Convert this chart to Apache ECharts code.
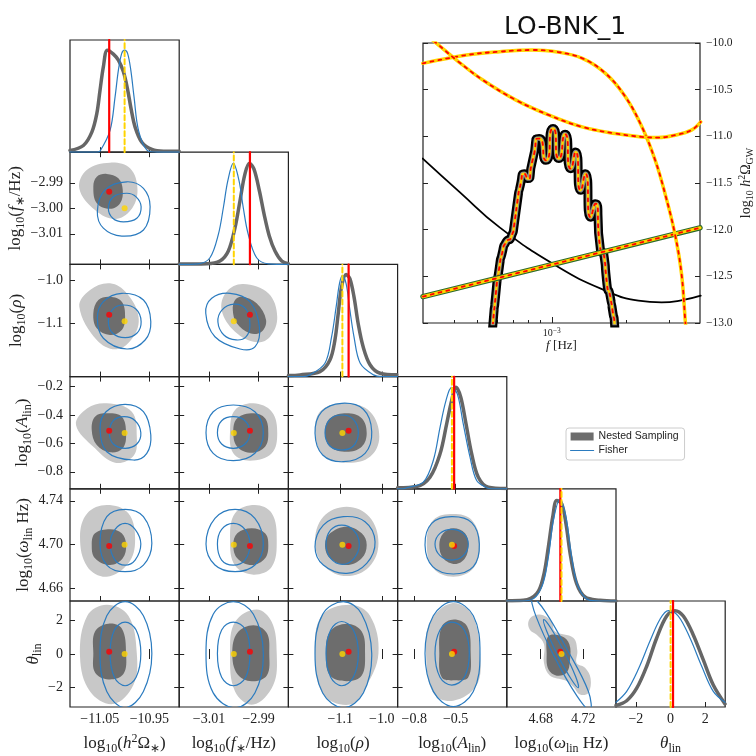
<!DOCTYPE html>
<html>
<head>
<meta charset="utf-8">
<script src="https://cdn.jsdelivr.net/npm/echarts@6.0.0/dist/echarts.min.js"></script>
<style>
html, body { margin: 0; padding: 0; background: #fff; }
#main { width: 756px; height: 756px; }
</style>
</head>
<body>
<div id="main"></div>
<script>
// ---- corner plot parameters ----
var paramMin = [-11.11, -3.022, -1.225, -0.92, 4.648, -3.1416];
var paramMax = [-10.89, -2.978, -0.962, -0.13, 4.751, 3.1416];
var xTickVals = [[-11.05, -10.95], [-3.01, -2.99], [-1.1, -1.0], [-0.8, -0.5], [4.68, 4.72], [-2, 0, 2]];
var yTickVals = [[], [-2.99, -3.0, -3.01], [-1.0, -1.1], [-0.2, -0.4, -0.6, -0.8], [4.74, 4.70, 4.66], [2, 0, -2]];
var tickDecimals = [2, 2, 1, 1, 2, 0];
var truthVals = [-11.0, -3.0, -1.095, -0.527, 4.6996, 0.0];
var nsBestVals = [-11.031, -2.9935, -1.080, -0.511, 4.6985, 0.14];

// axis labels (rich text)
var axisNames = [
  '{n|log}{s|10}{n|(}{i|h}{p|2}{n|Ω}{s|∗}{n|)}',
  '{n|log}{s|10}{n|(}{i|f}{s|∗}{n|/Hz)}',
  '{n|log}{s|10}{n|(}{i|ρ}{n|)}',
  '{n|log}{s|10}{n|(}{i|A}{s|lin}{n|)}',
  '{n|log}{s|10}{n|(}{i|ω}{s|lin}{n| Hz)}',
  '{i|θ}{s|lin}'
];

// 1D marginals: [value, normalised density]
var nsMarginal = [
  [[-11.11, 0.017], [-11.083, 0.066], [-11.066, 0.197], [-11.056, 0.378], [-11.0495, 0.608], [-11.0428, 0.837], [-11.0347, 1.0], [-11.0226, 0.962], [-11.0125, 0.903], [-11.0024, 0.788], [-10.9943, 0.624], [-10.987, 0.427], [-10.9788, 0.246], [-10.9653, 0.098], [-10.945, 0.027], [-10.9217, 0.01], [-10.89, 0.01]],
  [[-3.022, 0.003], [-3.0109, 0.006], [-3.0056, 0.033], [-3.0022, 0.131], [-2.9995, 0.361], [-2.9975, 0.624], [-2.9955, 0.887], [-2.9937, 0.992], [-2.9919, 0.936], [-2.9897, 0.722], [-2.9878, 0.493], [-2.9857, 0.279], [-2.9834, 0.131], [-2.9807, 0.033], [-2.978, 0.006]],
  [[-1.225, 0.01], [-1.197, 0.017], [-1.149, 0.049], [-1.125, 0.163], [-1.113, 0.358], [-1.105, 0.619], [-1.097, 0.878], [-1.086, 1.0], [-1.077, 0.96], [-1.067, 0.781], [-1.057, 0.521], [-1.045, 0.293], [-1.028, 0.114], [-1.004, 0.033], [-0.964, 0.017]],
  [[-0.92, 0.01], [-0.782, 0.023], [-0.686, 0.114], [-0.613, 0.343], [-0.565, 0.637], [-0.529, 0.865], [-0.497, 0.995], [-0.463, 0.897], [-0.425, 0.637], [-0.384, 0.343], [-0.336, 0.114], [-0.264, 0.016], [-0.136, 0.003]],
  [[4.648, 0.003], [4.6636, 0.007], [4.6762, 0.072], [4.6824, 0.235], [4.6872, 0.529], [4.6913, 0.822], [4.6951, 0.986], [4.6998, 0.953], [4.7038, 0.757], [4.7083, 0.431], [4.7139, 0.17], [4.7218, 0.039], [4.7359, 0.007], [4.751, 0.0]],
  [[-3.14, 0.016], [-2.526, 0.065], [-1.95, 0.195], [-1.375, 0.423], [-0.80, 0.716], [-0.225, 0.944], [0.253, 1.0], [0.73, 0.944], [1.305, 0.748], [1.881, 0.488], [2.456, 0.228], [3.13, 0.032]]
];
var fisherMarginal = [
  [[-11.11, 0], [-11.056, 0], [-11.0495, 0.01], [-11.0293, 0.214], [-11.0192, 0.542], [-11.0125, 0.805], [-11.0058, 0.969], [-11.0, 1.0], [-10.994, 0.969], [-10.9875, 0.805], [-10.981, 0.542], [-10.972, 0.214], [-10.955, 0.02], [-10.935, 0], [-10.89, 0]],
  [[-3.022, 0], [-3.0143, 0.006], [-3.0096, 0.065], [-3.0062, 0.296], [-3.0042, 0.558], [-3.0024, 0.821], [-3.0002, 0.992], [-2.9979, 0.821], [-2.9962, 0.558], [-2.9942, 0.296], [-2.9908, 0.065], [-2.9861, 0.006], [-2.978, 0]],
  [[-1.225, 0], [-1.19, 0], [-1.173, 0.017], [-1.137, 0.131], [-1.121, 0.39], [-1.110, 0.683], [-1.102, 0.911], [-1.095, 0.99], [-1.086, 0.911], [-1.078, 0.683], [-1.067, 0.39], [-1.052, 0.131], [-1.020, 0.017], [-1.0, 0], [-0.962, 0]],
  [[-0.92, 0], [-0.88, 0], [-0.854, 0.01], [-0.734, 0.065], [-0.662, 0.277], [-0.613, 0.603], [-0.570, 0.865], [-0.529, 0.995], [-0.488, 0.93], [-0.445, 0.637], [-0.396, 0.31], [-0.348, 0.081], [-0.275, 0.01], [-0.24, 0], [-0.13, 0]],
  [[4.648, 0], [4.66, 0], [4.6699, 0.007], [4.6809, 0.137], [4.6872, 0.431], [4.6919, 0.79], [4.6982, 1.0], [4.7038, 0.822], [4.7092, 0.431], [4.7155, 0.137], [4.7265, 0.007], [4.74, 0], [4.751, 0]],
  [[-3.14, 0.049], [-2.526, 0.162], [-1.859, 0.391], [-1.186, 0.684], [-0.61, 0.911], [-0.132, 1.0], [0.443, 0.944], [1.116, 0.716], [1.79, 0.423], [2.456, 0.162], [3.13, 0.049]]
];

// 2D panels [row, col] and their contour outlines ([x = col param, y = row param])
var pairList = [[1, 0], [2, 0], [2, 1], [3, 0], [3, 1], [3, 2], [4, 0], [4, 1], [4, 2], [4, 3], [5, 0], [5, 1], [5, 2], [5, 3], [5, 4]];

var nsLight = [
  [[-10.974, -2.9928], [-10.989, -2.9843], [-11.0293, -2.9821], [-11.0763, -2.985], [-11.0912, -2.9922], [-11.0596, -3.0007], [-11.0192, -3.0042], [-10.9875, -3.0007]],
  [[-10.972, -1.0846], [-10.9956, -1.0297], [-11.0293, -1.0063], [-11.0696, -1.022], [-11.0912, -1.0612], [-11.0561, -1.1392], [-11.0158, -1.161], [-10.9823, -1.1315]],
  [[-2.9825, -1.0846], [-2.9861, -1.0297], [-2.9962, -1.0079], [-3.0029, -1.026], [-3.0049, -1.0689], [-2.9995, -1.1198], [-2.9908, -1.1446], [-2.9854, -1.1315]],
  [[-10.9754, -0.5532], [-10.9855, -0.3772], [-11.0359, -0.318], [-11.0751, -0.3535], [-11.0979, -0.4708], [-11.0596, -0.6349], [-11.0192, -0.7363], [-10.9822, -0.689]],
  [[-2.9825, -0.5293], [-2.9847, -0.3772], [-2.9921, -0.318], [-2.9995, -0.3652], [-3.0015, -0.506], [-3.0002, -0.6701], [-2.9935, -0.7223], [-2.9847, -0.6701]],
  [[-1.006, -0.5532], [-1.0284, -0.3772], [-1.0845, -0.318], [-1.1448, -0.3652], [-1.1609, -0.506], [-1.1409, -0.6821], [-1.0845, -0.7363], [-1.0284, -0.6941]],
  [[-10.9788, 4.704], [-10.9924, 4.7285], [-11.0359, 4.7361], [-11.0751, 4.7285], [-11.0898, 4.707], [-11.0751, 4.6795], [-11.0359, 4.6703], [-10.9924, 4.6826]],
  [[-2.9827, 4.704], [-2.9847, 4.7285], [-2.9915, 4.7361], [-2.9995, 4.7285], [-3.0015, 4.704], [-2.9995, 4.6805], [-2.9921, 4.6722], [-2.9847, 4.6795]],
  [[-1.0081, 4.701], [-1.0302, 4.7254], [-1.0845, 4.7346], [-1.1409, 4.7254], [-1.1609, 4.701], [-1.1368, 4.6795], [-1.0845, 4.6709], [-1.0302, 4.6795]],
  [[-0.3238, 4.701], [-0.3838, 4.7223], [-0.517, 4.7278], [-0.6617, 4.7223], [-0.7094, 4.701], [-0.6617, 4.678], [-0.517, 4.6703], [-0.3722, 4.678]],
  [[-10.9754, 0.023], [-10.9924, 2.2625], [-11.0359, 2.9176], [-11.0751, 2.2625], [-11.0898, -0.1617], [-11.0696, -2.2169], [-11.0226, -2.9634], [-10.9823, -1.8432]],
  [[-2.9827, 0.023], [-2.9847, 1.893], [-2.9908, 2.6377], [-2.9995, 1.893], [-3.0015, 0.023], [-2.9995, -2.217], [-2.9921, -3.0], [-2.9841, -1.8433]],
  [[-1.0081, 0.023], [-1.0284, 2.2625], [-1.0766, 2.9176], [-1.1448, 2.2625], [-1.1609, 0.023], [-1.1409, -2.401], [-1.0766, -3.0], [-1.0404, -2.029]],
  [[-0.3238, 0.023], [-0.3838, 2.3577], [-0.5285, 3.013], [-0.6856, 1.893], [-0.7145, 0.023], [-0.6617, -2.3113], [-0.517, -2.77], [-0.3479, -1.8432]],
  [[4.6683, 1.893], [4.673, 2.262], [4.6824, 2.302], [4.6904, 1.893], [4.6935, 1.333], [4.7107, 0.958], [4.7145, 0.213], [4.7139, -0.536], [4.7218, -0.816], [4.7271, -1.466], [4.7249, -2.306], [4.7171, -2.401], [4.7107, -1.936], [4.7029, -1.561], [4.6888, -1.282], [4.6831, -0.536], [4.6831, 0.583], [4.6762, 1.143], [4.6699, 1.423]]
];

var nsDark = [
  [[-11.0037, -2.9928], [-11.0125, -2.9882], [-11.036, -2.9865], [-11.056, -2.9876], [-11.063, -2.9915], [-11.056, -2.998], [-11.0293, -3.0002], [-11.009, -2.998]],
  [[-10.999, -1.0846], [-11.0057, -1.0494], [-11.0293, -1.0377], [-11.0529, -1.0455], [-11.063, -1.0766], [-11.0561, -1.1118], [-11.0293, -1.1275], [-11.0057, -1.1158]],
  [[-2.987, -1.0923], [-2.9908, -1.0532], [-2.9968, -1.0377], [-2.9995, -1.0455], [-3.0004, -1.0689], [-2.9988, -1.1001], [-2.9935, -1.1235], [-2.9888, -1.1198]],
  [[-10.997, -0.5293], [-11.0057, -0.4124], [-11.0359, -0.3885], [-11.0596, -0.4124], [-11.0662, -0.506], [-11.0561, -0.6117], [-11.0293, -0.6631], [-11.0037, -0.6349]],
  [[-2.9861, -0.5293], [-2.9874, -0.4237], [-2.9921, -0.3885], [-2.9986, -0.4237], [-3.0002, -0.518], [-2.9986, -0.6237], [-2.9928, -0.666], [-2.9874, -0.6237]],
  [[-1.0364, -0.5293], [-1.0484, -0.4237], [-1.0845, -0.3885], [-1.1248, -0.4237], [-1.1368, -0.518], [-1.1248, -0.6237], [-1.0845, -0.6589], [-1.0484, -0.6237]],
  [[-10.997, 4.6994], [-11.0057, 4.7101], [-11.0293, 4.7138], [-11.0596, 4.7101], [-11.0662, 4.6994], [-11.0596, 4.6872], [-11.0293, 4.681], [-11.0037, 4.6872]],
  [[-2.9861, 4.6994], [-2.9874, 4.7101], [-2.9928, 4.7147], [-2.9986, 4.7101], [-3.0002, 4.6994], [-2.9986, 4.6872], [-2.9928, 4.681], [-2.9874, 4.6872]],
  [[-1.0364, 4.6994], [-1.0484, 4.7101], [-1.0845, 4.7162], [-1.1248, 4.7101], [-1.1368, 4.6994], [-1.1248, 4.6872], [-1.0845, 4.681], [-1.0484, 4.6872]],
  [[-0.4084, 4.6994], [-0.4323, 4.7101], [-0.517, 4.7147], [-0.5893, 4.7101], [-0.6183, 4.6994], [-0.5893, 4.6872], [-0.5047, 4.6819], [-0.4323, 4.6872]],
  [[-10.997, 0.023], [-11.0057, 1.5178], [-11.0327, 1.798], [-11.0596, 1.3314], [-11.063, 0.023], [-11.0596, -1.0968], [-11.0327, -1.5057], [-11.0024, -1.186]],
  [[-2.9857, 0.023], [-2.9867, 1.238], [-2.9921, 1.7026], [-2.9986, 1.238], [-3.0006, 0.023], [-2.9986, -1.186], [-2.9928, -1.6177], [-2.9867, -1.2818]],
  [[-1.0404, 0.023], [-1.0484, 1.3314], [-1.0845, 1.798], [-1.1248, 1.3314], [-1.1344, 0.023], [-1.1248, -1.2818], [-1.0845, -1.6177], [-1.0484, -1.2818]],
  [[-0.391, 0.023], [-0.4157, 1.613], [-0.5119, 2.039], [-0.6009, 1.613], [-0.6183, 0.023], [-0.6009, -1.377], [-0.5047, -1.5615], [-0.4084, -1.377]],
  [[4.6872, 1.053], [4.6998, 1.053], [4.707, 0.583], [4.7076, -0.346], [4.7045, -1.097], [4.6951, -1.282], [4.6872, -0.906], [4.6856, 0.023]]
];

var fisherOuter = [
  [[-10.9486, -2.9994], [-10.962, -2.9922], [-10.9956, -2.9896], [-11.0394, -2.9928], [-11.0549, -3.0013], [-11.0428, -3.0078], [-11.0057, -3.0109], [-10.962, -3.0085]],
  [[-10.9472, -1.0963], [-10.962, -1.0455], [-11.0057, -1.0297], [-11.0428, -1.0494], [-11.0549, -1.0883], [-11.0428, -1.1352], [-10.9956, -1.1603], [-10.9587, -1.1392]],
  [[-2.9897, -1.108], [-2.9935, -1.0494], [-3.0015, -1.0297], [-3.0089, -1.0415], [-3.0113, -1.0766], [-3.0076, -1.1315], [-2.9975, -1.1603], [-2.9914, -1.1549]],
  [[-10.9472, -0.5413], [-10.9621, -0.3772], [-10.999, -0.3251], [-11.0374, -0.3772], [-11.0495, -0.4941], [-11.0359, -0.6589], [-10.9823, -0.7173], [-10.9553, -0.6702]],
  [[-2.9881, -0.5251], [-2.9915, -0.3772], [-3.0002, -0.33], [-3.0083, -0.3772], [-3.0112, -0.5251], [-3.0083, -0.6701], [-3.0002, -0.7223], [-2.9915, -0.6701]],
  [[-1.0243, -0.518], [-1.0445, -0.3603], [-1.0966, -0.318], [-1.1448, -0.3772], [-1.1609, -0.5293], [-1.1424, -0.6821], [-1.0927, -0.7293], [-1.0404, -0.6701]],
  [[-10.9451, 4.701], [-10.9621, 4.7254], [-10.999, 4.7322], [-11.0359, 4.7254], [-11.0495, 4.701], [-11.0359, 4.681], [-10.999, 4.6749], [-10.9621, 4.681]],
  [[-2.9881, 4.7003], [-2.9915, 4.7239], [-2.9995, 4.7322], [-3.0076, 4.7239], [-3.0112, 4.7003], [-3.0076, 4.681], [-2.9995, 4.6749], [-2.9915, 4.681]],
  [[-1.0163, 4.7024], [-1.0404, 4.7208], [-1.0927, 4.7254], [-1.1409, 4.7177], [-1.1609, 4.6978], [-1.1409, 4.681], [-1.0845, 4.6734], [-1.0364, 4.6826]],
  [[-0.3289, 4.7003], [-0.3838, 4.7199], [-0.5285, 4.7254], [-0.6733, 4.7193], [-0.7217, 4.6994], [-0.666, 4.6795], [-0.517, 4.6728], [-0.3722, 4.6795]],
  [[-10.9451, 0.023], [-10.9621, 2.2625], [-10.999, 3.10], [-11.0359, 2.2625], [-11.0495, 0.023], [-11.0359, -2.2167], [-10.999, -3.185], [-10.9621, -2.2167]],
  [[-2.9881, 0.023], [-2.9921, 2.3577], [-3.0002, 3.10], [-3.0083, 2.3577], [-3.0112, 0.023], [-3.0083, -2.306], [-2.9995, -3.185], [-2.9915, -2.306]],
  [[-1.0243, 0.023], [-1.0484, 2.3577], [-1.0927, 3.10], [-1.1424, 2.3577], [-1.1609, 0.023], [-1.1424, -2.306], [-1.0927, -3.185], [-1.0445, -2.306]],
  [[-0.3238, 0.023], [-0.3722, 2.2625], [-0.517, 3.10], [-0.6617, 2.2625], [-0.7217, 0.023], [-0.6617, -2.217], [-0.517, -3.112], [-0.3722, -2.217]],
  [[4.7267, -3.336], [4.725, -2.222], [4.7055, 0.208], [4.6841, 2.531], [4.6716, 3.382], [4.6753, 2.273], [4.6928, -0.156], [4.7141, -2.48]]
];

var fisherInner = [
  [[-10.9667, -2.9994], [-10.9768, -2.9955], [-10.9956, -2.9941], [-11.0226, -2.9955], [-11.0327, -3.0], [-11.0238, -3.0039], [-11.0024, -3.0053], [-10.9754, -3.0039]],
  [[-10.9667, -1.0963], [-10.9768, -1.0672], [-11.0024, -1.0572], [-11.0238, -1.0672], [-11.0327, -1.0963], [-11.0238, -1.1235], [-10.999, -1.1338], [-10.9754, -1.1235]],
  [[-2.9935, -1.104], [-2.9951, -1.0666], [-2.9999, -1.055], [-3.0048, -1.069], [-3.0064, -1.097], [-3.004, -1.1275], [-2.9991, -1.139], [-2.9951, -1.132]],
  [[-10.9673, -0.5251], [-10.9788, -0.4406], [-11.001, -0.4124], [-11.0226, -0.4406], [-11.0307, -0.5251], [-11.0226, -0.6047], [-10.999, -0.6349], [-10.9754, -0.6047]],
  [[-2.9935, -0.525], [-2.9955, -0.4406], [-3.0002, -0.4124], [-3.0049, -0.4406], [-3.0066, -0.525], [-3.0049, -0.6047], [-3.0002, -0.6349], [-2.9955, -0.6047]],
  [[-1.0566, -0.525], [-1.0686, -0.4307], [-1.0966, -0.4004], [-1.1248, -0.4307], [-1.1368, -0.525], [-1.1248, -0.6187], [-1.0966, -0.6469], [-1.0686, -0.6187]],
  [[-10.9673, 4.7003], [-10.9788, 4.7138], [-10.999, 4.7193], [-11.0192, 4.7138], [-11.0293, 4.7003], [-11.0192, 4.6856], [-10.999, 4.681], [-10.9788, 4.6856]],
  [[-2.9935, 4.7003], [-2.9955, 4.7138], [-3.0002, 4.7193], [-3.0049, 4.7138], [-3.0066, 4.7003], [-3.0049, 4.6856], [-3.0002, 4.681], [-2.9955, 4.6856]],
  [[-1.0542, 4.7003], [-1.0686, 4.7132], [-1.0966, 4.7177], [-1.1231, 4.7132], [-1.1344, 4.7003], [-1.1231, 4.6872], [-1.0942, 4.6817], [-1.0669, 4.6872]],
  [[-0.4084, 4.7003], [-0.4446, 4.7101], [-0.5285, 4.7138], [-0.6132, 4.7101], [-0.6494, 4.7003], [-0.6132, 4.6896], [-0.5285, 4.6856], [-0.4446, 4.6896]],
  [[-10.9673, 0.023], [-10.9768, 1.4244], [-10.999, 1.893], [-11.0206, 1.4244], [-11.0293, 0.023], [-11.0206, -1.3769], [-10.999, -1.8808], [-10.9768, -1.3769]],
  [[-2.9935, 0.023], [-2.9952, 1.4244], [-3.0002, 1.893], [-3.0049, 1.4244], [-3.0066, 0.023], [-3.0049, -1.3769], [-3.0002, -1.8808], [-2.9952, -1.3769]],
  [[-1.0566, 0.023], [-1.0686, 1.4244], [-1.0966, 1.927], [-1.1231, 1.4244], [-1.1344, 0.023], [-1.1231, -1.3769], [-1.0966, -1.8808], [-1.0686, -1.3769]],
  [[-0.4012, 0.023], [-0.4374, 1.4244], [-0.5285, 1.893], [-0.6132, 1.4244], [-0.6494, 0.023], [-0.6132, -1.3769], [-0.5285, -1.8432], [-0.4374, -1.3769]],
  [[4.7155, -1.993], [4.7129, -1.338], [4.7022, 0.113], [4.6898, 1.512], [4.6828, 2.039], [4.6854, 1.389], [4.696, -0.067], [4.7085, -1.466]]
];

// ---- inset spectrum: [log10(f/Hz), log10 h^2 Omega_GW] ----
var freqLogMin = -3.523, freqLogMax = -2.398;
var freqMajorTicks = [-3];
var freqMinorTicks = [-3.398, -3.301, -3.222, -3.155, -3.097, -3.046, -2.699, -2.523];
var sensCurveA = [[-3.524, -10.218], [-3.346, -10.129], [-3.212, -10.093], [-3.078, -10.075], [-2.984, -10.093], [-2.876, -10.164], [-2.782, -10.325], [-2.701, -10.576], [-2.634, -10.898], [-2.580, -11.256], [-2.540, -11.614], [-2.500, -12.044], [-2.473, -12.474], [-2.457, -13.004], [-2.45, -13.2]];
var sensCurveB = [[-3.53, -9.87], [-3.468, -10.003], [-3.387, -10.183], [-3.280, -10.397], [-3.145, -10.612], [-3.011, -10.773], [-2.877, -10.899], [-2.742, -10.970], [-2.635, -11.006], [-2.567, -11.013], [-2.500, -10.988], [-2.433, -10.934], [-2.395, -10.845]];
var powerLaw = [[-3.523, -12.717], [-2.398, -11.980]];
var noiseCurve = [[-3.524, -11.238], [-3.374, -11.597], [-3.213, -11.973], [-2.984, -12.384], [-2.782, -12.653], [-2.648, -12.761], [-2.554, -12.779], [-2.470, -12.755], [-2.395, -12.707]];
var signalCurve = [[-3.245, -13.2], [-3.239, -13.011], [-3.226, -12.653], [-3.213, -12.403], [-3.199, -12.223], [-3.186, -12.134], [-3.165, -12.081], [-3.152, -11.937], [-3.139, -11.686], [-3.125, -11.490], [-3.112, -11.400], [-3.098, -11.453], [-3.078, -11.257], [-3.051, -11.024], [-3.024, -11.257], [-2.995, -10.916], [-2.971, -11.238], [-2.946, -10.977], [-2.923, -11.346], [-2.903, -11.167], [-2.883, -11.579], [-2.863, -11.400], [-2.843, -11.866], [-2.823, -11.722], [-2.802, -12.223], [-2.789, -12.259], [-2.776, -12.581], [-2.762, -12.725], [-2.753, -12.868], [-2.745, -13.011], [-2.740, -13.2]];

// ---- layout ----
var SERIF = 'Liberation Serif';
var AX = '#222222';
var BLUE = '#2b7bbf';
var colLeft = [70, 179.2, 288.4, 397.6, 506.8, 616];
var rowTop = [40, 152.2, 264.4, 376.6, 488.8, 601];
var cellW = 109.2, cellH = 112.2;
var yNameGap = [0, 42, 42, 31, 25, 14];

var nameRich = {
  n: { fontFamily: SERIF, fontSize: 17, color: '#222', lineHeight: 22 },
  i: { fontFamily: SERIF, fontSize: 17, fontStyle: 'italic', color: '#222', lineHeight: 22 },
  s: { fontFamily: SERIF, fontSize: 12, color: '#222', lineHeight: 12, verticalAlign: 'bottom' },
  p: { fontFamily: SERIF, fontSize: 12, color: '#222', lineHeight: 12, verticalAlign: 'top' }
};
var insetRich = {
  n: { fontFamily: SERIF, fontSize: 14, color: '#222', lineHeight: 18 },
  i: { fontFamily: SERIF, fontSize: 14, fontStyle: 'italic', color: '#222', lineHeight: 18 },
  s: { fontFamily: SERIF, fontSize: 10, color: '#222', lineHeight: 10, verticalAlign: 'bottom' },
  p: { fontFamily: SERIF, fontSize: 10, color: '#222', lineHeight: 10, verticalAlign: 'top' }
};

function fmt(d) {
  return function (v) {
    var s = Math.abs(v) < 1e-9 ? (0).toFixed(d) : v.toFixed(d);
    return s.replace('-', '\u2212');
  };
}

var grids = [], xAxes = [], yAxes = [], series = [];

function tickStyle(vals, len) {
  return { inside: true, length: len || 5, lineStyle: { color: AX, width: 1 }, customValues: vals };
}

function addCell(r, c) {
  var g = grids.length;
  var diag = r === c;
  grids.push({ left: colLeft[c], top: rowTop[r], width: cellW, height: cellH, show: true, borderColor: AX, borderWidth: 1.2 });
  var xi = xAxes.length;
  xAxes.push({
    gridIndex: g, type: 'value', position: 'bottom', min: paramMin[c], max: paramMax[c],
    axisLine: { show: false }, splitLine: { show: false },
    axisTick: tickStyle(xTickVals[c]),
    axisLabel: { show: r === 5, customValues: xTickVals[c], formatter: fmt(tickDecimals[c]), margin: 5, fontFamily: SERIF, fontSize: 14, color: '#222' },
    name: r === 5 ? axisNames[c] : '', nameLocation: 'middle', nameGap: 26, nameTextStyle: { rich: nameRich }
  });
  if (!diag) {
    xAxes.push({
      gridIndex: g, type: 'value', position: 'top', min: paramMin[c], max: paramMax[c],
      axisLine: { show: false }, splitLine: { show: false }, axisTick: tickStyle(xTickVals[c]), axisLabel: { show: false }
    });
  }
  var yi = yAxes.length;
  if (diag) {
    yAxes.push({ gridIndex: g, type: 'value', min: 0, max: 1.1, show: false });
  } else {
    yAxes.push({
      gridIndex: g, type: 'value', position: 'left', min: paramMin[r], max: paramMax[r],
      axisLine: { show: false }, splitLine: { show: false },
      axisTick: tickStyle(yTickVals[r]),
      axisLabel: { show: c === 0, customValues: yTickVals[r], formatter: fmt(tickDecimals[r]), margin: 7, fontFamily: SERIF, fontSize: 14, color: '#222' },
      name: c === 0 ? axisNames[r] : '', nameLocation: 'middle', nameGap: yNameGap[r], nameTextStyle: { rich: nameRich }
    });
    yAxes.push({
      gridIndex: g, type: 'value', position: 'right', min: paramMin[r], max: paramMax[r],
      axisLine: { show: false }, splitLine: { show: false }, axisTick: tickStyle(yTickVals[r]), axisLabel: { show: false }
    });
  }
  return { x: xi, y: yi };
}

function polySeries(points, ax, fill, stroke, width, name) {
  return {
    type: 'custom', name: name || '', xAxisIndex: ax.x, yAxisIndex: ax.y, clip: true, silent: true,
    itemStyle: { color: fill || stroke },
    data: [points[0]],
    renderItem: function (params, api) {
      var pts = points.map(function (p) { return api.coord(p); });
      return {
        type: 'polygon',
        shape: { points: pts, smooth: 0.38 },
        style: { fill: fill || 'none', stroke: stroke || 'none', lineWidth: width || 0 }
      };
    }
  };
}

function lineSeries(data, ax, color, width, dash, smooth, name) {
  return {
    type: 'line', name: name || '', xAxisIndex: ax.x, yAxisIndex: ax.y, data: data,
    smooth: smooth || false, symbol: 'none', silent: true, clip: true,
    lineStyle: { color: color, width: width, type: dash || 'solid', cap: 'round', join: 'round' }
  };
}

// diagonal panels
for (var k = 0; k < 6; k++) {
  var axd = addCell(k, k);
  series.push(lineSeries(nsMarginal[k], axd, '#666666', 3.5, null, 0.35));
  series.push(lineSeries(fisherMarginal[k], axd, BLUE, 1.2, null, 0.35, 'Fisher'));
  series.push(lineSeries([[nsBestVals[k], 0], [nsBestVals[k], 1.1]], axd, '#ff0000', 2.2));
  series.push(lineSeries([[truthVals[k], 0], [truthVals[k], 1.1]], axd, '#ffd400', 2, [5, 3]));
}

// 2D panels
pairList.forEach(function (rc, idx) {
  var r = rc[0], c = rc[1];
  var ax = addCell(r, c);
  series.push(polySeries(nsLight[idx], ax, '#c8c8c8', null, 0));
  series.push(polySeries(nsDark[idx], ax, '#6d6d6d', null, 0, 'Nested Sampling'));
  series.push(polySeries(fisherOuter[idx], ax, null, BLUE, 1.2));
  series.push(polySeries(fisherInner[idx], ax, null, BLUE, 1.2));
  series.push({ type: 'scatter', xAxisIndex: ax.x, yAxisIndex: ax.y, silent: true, symbolSize: 6,
    itemStyle: { color: '#ff0000' }, data: [[nsBestVals[c], nsBestVals[r]]] });
  series.push({ type: 'scatter', xAxisIndex: ax.x, yAxisIndex: ax.y, silent: true, symbolSize: 6,
    itemStyle: { color: '#ffd400' }, data: [[truthVals[c], truthVals[r]]] });
});

// inset spectrum
var gi = grids.length;
grids.push({ left: 423, top: 43, width: 280, height: 280, show: true, borderColor: AX, borderWidth: 1.2 });
var insetAx = { x: xAxes.length, y: yAxes.length };
xAxes.push({
  gridIndex: gi, type: 'value', position: 'bottom', min: freqLogMin, max: freqLogMax,
  axisLine: { show: false }, splitLine: { show: false },
  axisTick: tickStyle(freqMajorTicks, 6),
  axisLabel: {
    customValues: freqMajorTicks, margin: 4,
    formatter: function (v) { return '{b|10}{e|' + fmt(0)(v) + '}'; },
    rich: {
      b: { fontFamily: SERIF, fontSize: 10, color: '#222', lineHeight: 12 },
      e: { fontFamily: SERIF, fontSize: 7.5, color: '#222', lineHeight: 8, verticalAlign: 'top' }
    }
  },
  name: '{i|f} {n|[Hz]}', nameLocation: 'middle', nameGap: 16,
  nameTextStyle: { rich: { i: { fontFamily: SERIF, fontSize: 13, fontStyle: 'italic', color: '#222' }, n: { fontFamily: SERIF, fontSize: 13, color: '#222' } } }
});
xAxes.push({
  gridIndex: gi, type: 'value', position: 'bottom', min: freqLogMin, max: freqLogMax,
  axisLine: { show: false }, splitLine: { show: false },
  axisTick: tickStyle(freqMinorTicks, 3), axisLabel: { show: false }
});
yAxes.push({
  gridIndex: gi, type: 'value', position: 'right', min: -13, max: -10, interval: 0.5,
  axisLine: { show: false }, splitLine: { show: false },
  axisTick: { inside: true, length: 5, lineStyle: { color: AX } },
  axisLabel: { formatter: fmt(1), margin: 6, fontFamily: SERIF, fontSize: 11.5, color: '#222' },
  name: '{n|log}{s|10}{n| }{i|h}{p|2}{n|Ω}{s|GW}', nameLocation: 'middle', nameGap: 37, nameRotate: 90,
  nameTextStyle: { rich: insetRich }
});
yAxes.push({
  gridIndex: gi, type: 'value', position: 'left', min: -13, max: -10, interval: 0.5,
  axisLine: { show: false }, splitLine: { show: false },
  axisTick: { inside: true, length: 5, lineStyle: { color: AX } }, axisLabel: { show: false }
});

series.push(lineSeries(noiseCurve, insetAx, '#000000', 1.8, null, 0.5));
series.push(lineSeries(signalCurve, insetAx, '#000000', 9, null, 1));
series.push(lineSeries(signalCurve, insetAx, '#8c8c8c', 4.5, null, 1));
series.push(lineSeries(signalCurve, insetAx, '#ffd400', 2.4, null, 1));
series.push(lineSeries(signalCurve, insetAx, '#ff0000', 1.8, [3, 5], 1));
series.push(lineSeries(powerLaw, insetAx, '#2c6b2c', 5.5));
series.push(lineSeries(powerLaw, insetAx, '#ffd400', 3.2));
series.push(lineSeries(powerLaw, insetAx, '#ff0000', 1.8, [3, 5]));
series.push(lineSeries(sensCurveA, insetAx, '#ffd400', 3.5, null, 0.4));
series.push(lineSeries(sensCurveA, insetAx, '#ff0000', 1.8, [3, 5], 0.4));
series.push(lineSeries(sensCurveB, insetAx, '#ffd400', 3.5, null, 0.4));
series.push(lineSeries(sensCurveB, insetAx, '#ff0000', 1.8, [3, 5], 0.4));

var chart = echarts.init(document.getElementById('main'), null, { renderer: 'canvas' });
chart.setOption({
  animation: false,
  backgroundColor: '#ffffff',
  title: {
    text: 'LO-BNK_1', left: 499, top: 10,
    textStyle: { fontFamily: 'DejaVu Sans', fontSize: 25, fontWeight: 'normal', color: '#111' }
  },
  legend: {
    left: 566, top: 428, orient: 'vertical', selectedMode: false,
    itemWidth: 23, itemHeight: 8, itemGap: 3, padding: [3, 6, 4, 4],
    borderColor: '#cccccc', borderWidth: 1, borderRadius: 3, backgroundColor: '#ffffff',
    textStyle: { fontFamily: 'Liberation Sans', fontSize: 10.5, color: '#222' },
    data: [
      { name: 'Nested Sampling', icon: 'rect', itemStyle: { color: '#6d6d6d' } },
      { name: 'Fisher', itemStyle: { opacity: 0 }, lineStyle: { color: BLUE, width: 1.2 } }
    ]
  },
  grid: grids,
  xAxis: xAxes,
  yAxis: yAxes,
  series: series
});
</script>
</body>
</html>
